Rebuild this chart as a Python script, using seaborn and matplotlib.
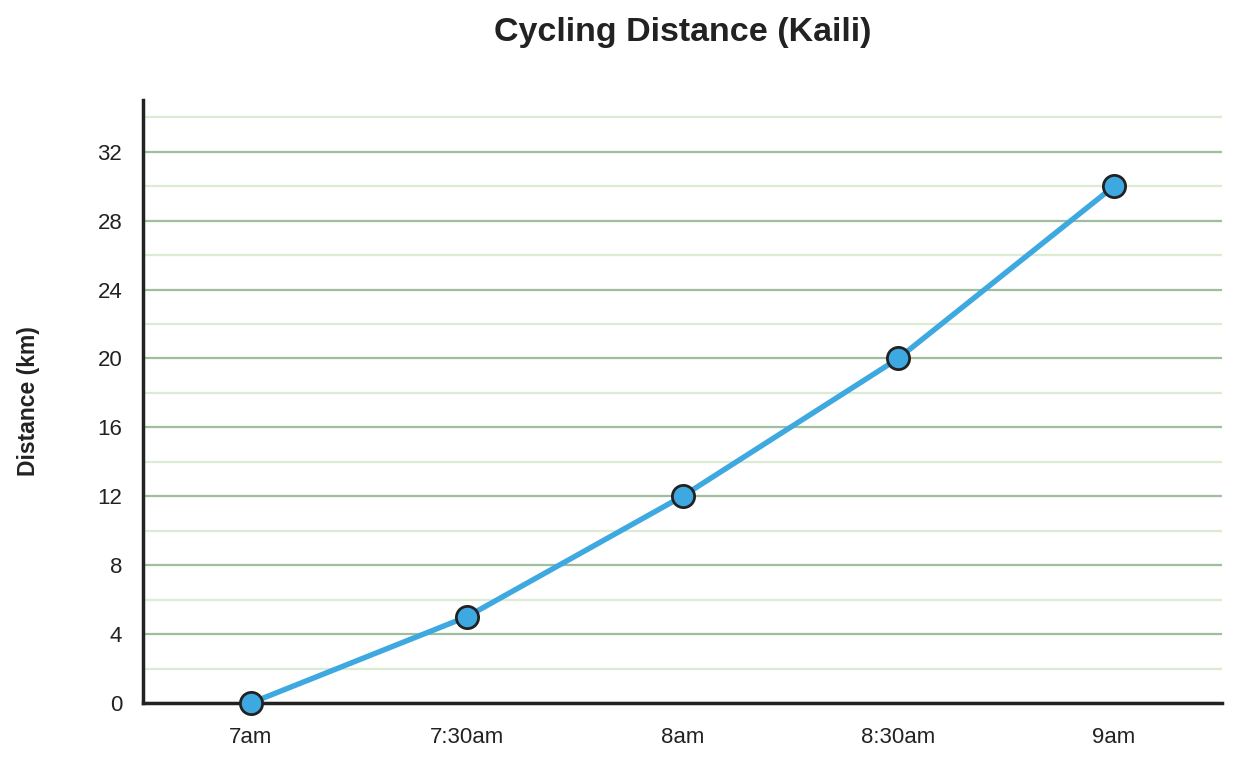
import matplotlib
matplotlib.use("Agg")
import matplotlib.pyplot as plt
import seaborn as sns
import pandas as pd
import numpy as np

times = ["7am", "7:30am", "8am", "8:30am", "9am"]
distance = [0, 5, 12, 20, 30]
y_ticks = [0, 4, 8, 12, 16, 20, 24, 28, 32]

sns.set_style("white")
plt.rcParams['font.family'] = ['Liberation Sans', 'DejaVu Sans']

df = pd.DataFrame({"time": times, "distance": distance})
df["pos"] = range(len(times))

fig = plt.figure(figsize=(12.41, 7.61), dpi=100)
ax = fig.add_axes([143/1241, 1 - 703/761, (1222-143)/1241, (703-100)/761])

sns.lineplot(data=df, x="pos", y="distance", ax=ax, color="#3ea8e0", linewidth=3.9,
             marker="o", markersize=16, markerfacecolor="#3ea8e0",
             markeredgecolor="#222222", markeredgewidth=2, clip_on=False, zorder=5)

ax.set_xlim(-0.5, 4.5)
ax.set_ylim(0, 35)
ax.set_xticks(range(len(times)))
ax.set_xticklabels(times)
ax.set_yticks(y_ticks)
ax.set_yticks([t + 2 for t in y_ticks], minor=True)
ax.grid(True, which="major", axis="y", color="#9dbf9d", linewidth=1.6, zorder=0)
ax.grid(True, which="minor", axis="y", color="#dcebd4", linewidth=1.6, zorder=0)
ax.grid(False, axis="x")
ax.set_axisbelow(True)
for s in ["top", "right"]:
    ax.spines[s].set_visible(False)
for s in ["left", "bottom"]:
    ax.spines[s].set_color("#222222")
    ax.spines[s].set_linewidth(2.5)
ax.tick_params(axis="both", which="both", length=0, labelsize=16, colors="#222222")
ax.tick_params(axis="x", pad=17)
ax.tick_params(axis="y", pad=15)
ax.set_xlabel("")
ax.set_ylabel("Distance (km)", fontsize=16.5, fontweight="bold", color="#222222", va="center")
ax.yaxis.set_label_coords((29 - 143) / 1079, 0.5)
fig.suptitle("Cycling Distance (Kaili)", fontsize=24.5, fontweight="bold", color="#222222", y=1-32/761, va="center", x=(143+1222)/2/1241)

fig.savefig("out.png", dpi=100)
